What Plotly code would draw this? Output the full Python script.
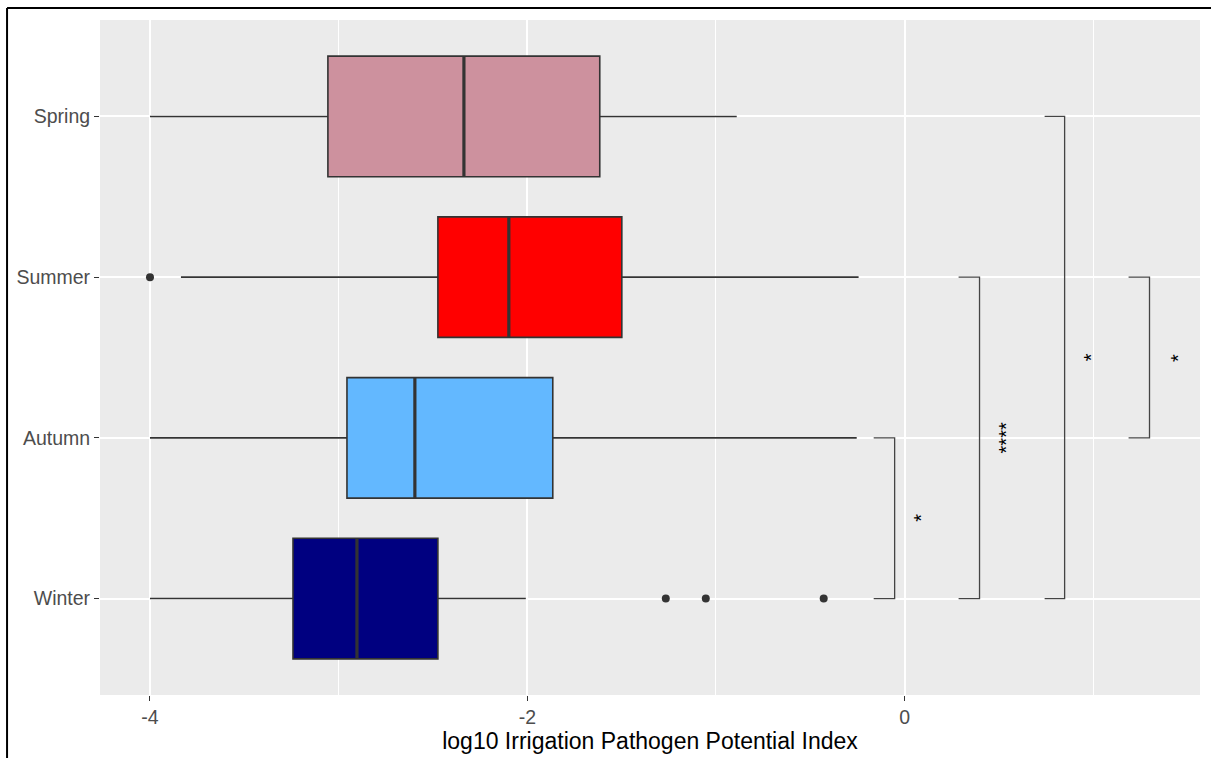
import plotly.graph_objects as go

# ---- data ----
seasons = ["Winter", "Autumn", "Summer", "Spring"]
positions = [1, 2, 3, 4]
colors = ["#000080", "#63B8FF", "#FF0000", "#CD919E"]
q1 = [-3.242, -2.956, -2.474, -3.057]
median = [-2.903, -2.596, -2.098, -2.336]
q3 = [-2.474, -1.865, -1.499, -1.616]
lower = [-4.0, -4.0, -3.836, -4.0]
upper = [-2.008, -0.254, -0.244, -0.89]
outlier_x = [-1.266, -1.054, -0.429, -4.0]
outlier_y = [1, 1, 1, 3]

# significance brackets: (from group, to group, vertical x, tick start x, label, label x)
br_from = [1, 1, 1, 3]
br_to = [2, 3, 4, 2]
br_x = [-0.053, 0.397, 0.848, 1.298]
br_tick = [-0.164, 0.286, 0.742, 1.187]
br_label = ["*", "****", "*", "*"]
br_label_x = [0.09, 0.535, 0.986, 1.446]

x_ticks = [-4, -2, 0]
x_minor = [-3, -1, 1]
box_width = 0.75

fig = go.Figure()
for i, s in enumerate(seasons):
    fig.add_trace(go.Box(
        y=[positions[i]], q1=[q1[i]], median=[median[i]], q3=[q3[i]],
        lowerfence=[lower[i]], upperfence=[upper[i]],
        orientation="h", width=box_width, whiskerwidth=0,
        fillcolor=colors[i], line=dict(color="#333333", width=1.6),
        boxpoints=False, name=s, showlegend=False, hoverinfo="skip",
    ))

# thick median lines
mx, my = [], []
for i in range(len(seasons)):
    mx += [median[i], median[i], None]
    my += [positions[i] - box_width / 2, positions[i] + box_width / 2, None]
fig.add_trace(go.Scatter(x=mx, y=my, mode="lines",
                         line=dict(color="#333333", width=3.2),
                         showlegend=False, hoverinfo="skip"))

# outliers
fig.add_trace(go.Scatter(x=outlier_x, y=outlier_y, mode="markers",
                         marker=dict(color="#333333", size=8),
                         showlegend=False, hoverinfo="skip"))

# brackets
bx, by = [], []
for i in range(len(br_from)):
    bx += [br_tick[i], br_x[i], br_x[i], br_tick[i], None]
    by += [br_from[i], br_from[i], br_to[i], br_to[i], None]
fig.add_trace(go.Scatter(x=bx, y=by, mode="lines",
                         line=dict(color="#444444", width=1.3),
                         showlegend=False, hoverinfo="skip"))

for i in range(len(br_from)):
    fig.add_annotation(x=br_label_x[i], y=(br_from[i] + br_to[i]) / 2,
                       text=br_label[i], showarrow=False, textangle=-90,
                       font=dict(family="Liberation Sans, Arial", size=20, color="black"),
                       xref="x", yref="y")

# outer frame lines (top and left)
fig.add_shape(type="line", xref="paper", yref="paper",
              x0=-0.0845, x1=1.03, y0=1.0178, y1=1.0178,
              line=dict(color="black", width=2))
fig.add_shape(type="line", xref="paper", yref="paper",
              x0=-0.0845, x1=-0.0845, y0=1.0178, y1=-0.12,
              line=dict(color="black", width=2))

fig.update_layout(
    width=1211, height=758,
    margin=dict(l=100, r=11, t=20, b=63),
    paper_bgcolor="white", plot_bgcolor="#EBEBEB",
    font=dict(family="Liberation Sans, Arial", color="#4D4D4D"),
    xaxis=dict(range=[-4.265, 1.5656], tickvals=x_ticks,
               ticktext=[str(v) for v in x_ticks], automargin=False,
               showgrid=True, gridcolor="white", gridwidth=1.6,
               zeroline=False, showline=False,
               ticks="outside", ticklen=5, tickwidth=1.2, tickcolor="#333333",
               tickfont=dict(size=19.5, color="#4D4D4D"),
               minor=dict(tickvals=x_minor, showgrid=True, gridcolor="white", gridwidth=0.8),
               title=dict(text="log10 Irrigation Pathogen Potential Index",
                          font=dict(size=23, color="black"), standoff=4)),
    yaxis=dict(range=[0.4, 4.6], tickvals=positions, ticktext=seasons,
               automargin=False,
               showgrid=True, gridcolor="white", gridwidth=1.6,
               zeroline=False, showline=False,
               ticks="outside", ticklen=5, tickwidth=1.2, tickcolor="#333333",
               tickfont=dict(size=19.5, color="#4D4D4D")),
)

fig.write_html("out.html", config={"displayModeBar": False},
               post_script="document.body.style.margin='0';document.body.style.overflow='hidden';")
